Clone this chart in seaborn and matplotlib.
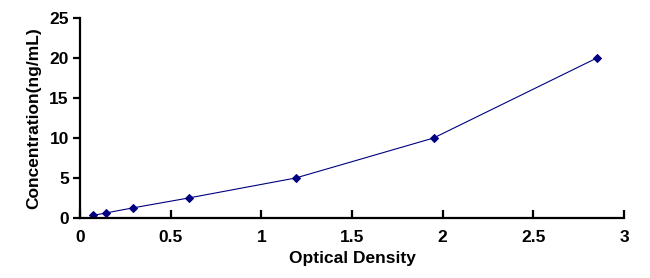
import pandas as pd
import seaborn as sns
import matplotlib.pyplot as plt

# standard curve readings
od = [0.072, 0.143, 0.29, 0.60, 1.19, 1.95, 2.85]
conc = [0.312, 0.625, 1.25, 2.5, 5, 10, 20]

df = pd.DataFrame({'od': od, 'conc': conc})

sns.set_style('white')
plt.rcParams['font.family'] = ['Liberation Sans', 'DejaVu Sans']
plt.rcParams['text.color'] = 'black'
plt.rcParams['axes.labelcolor'] = 'black'
plt.rcParams['xtick.color'] = 'black'
plt.rcParams['ytick.color'] = 'black'

fig = plt.figure(figsize=(6.5, 2.78), dpi=100)
ax = fig.add_axes([0.123, 0.216, 0.837, 0.719])

sns.lineplot(data=df, x='od', y='conc', color='#000080', linewidth=0.8,
             marker='D', markersize=4.5, markeredgecolor='#000080', ax=ax)

ax.set_xlim(0, 3)
ax.set_ylim(0, 25)
ax.set_xticks([0, 0.5, 1, 1.5, 2, 2.5, 3])
ax.set_xticklabels(['0', '0.5', '1', '1.5', '2', '2.5', '3'])
ax.set_yticks([0, 5, 10, 15, 20, 25])

for s in ['top', 'right']:
    ax.spines[s].set_visible(False)
for s in ['left', 'bottom']:
    ax.spines[s].set_color('black')
    ax.spines[s].set_linewidth(1.6)

ax.tick_params(axis='x', bottom=True, direction='in', length=6, width=1.6,
               color='black', labelcolor='black', labelsize=12.5, pad=9)
ax.tick_params(axis='y', left=True, direction='out', length=5, width=1.6,
               color='black', labelcolor='black', labelsize=12.5, pad=3)
for lab in ax.get_xticklabels() + ax.get_yticklabels():
    lab.set_fontweight('bold')

ax.set_xlabel('Optical Density', fontsize=12.5, fontweight='bold', labelpad=4, color='black')
ax.set_ylabel('Concentration(ng/mL)', fontsize=12.5, fontweight='bold', labelpad=6, color='black')

plt.savefig('out.png', dpi=100)
